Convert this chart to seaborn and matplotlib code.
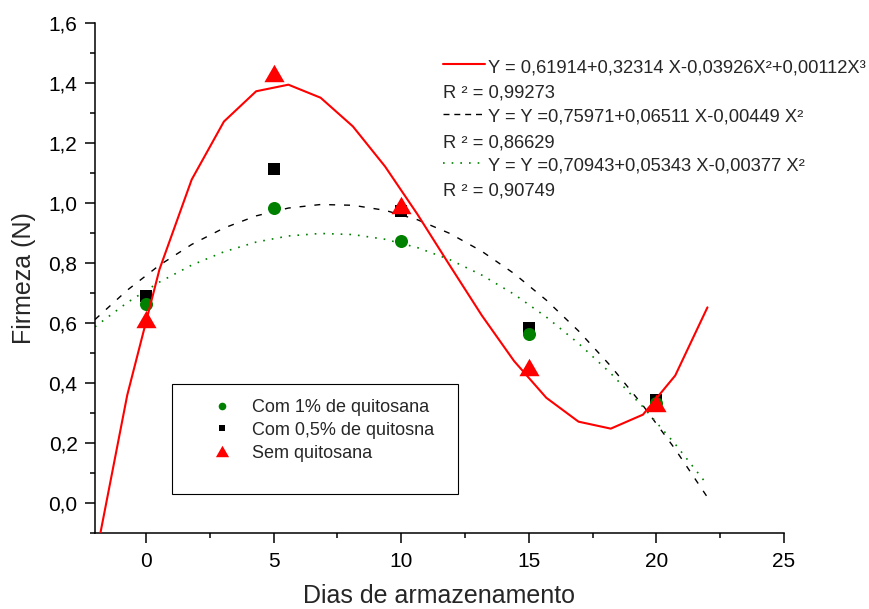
import numpy as np
import pandas as pd
import matplotlib
matplotlib.use("Agg")
import matplotlib.pyplot as plt
from matplotlib.lines import Line2D
from matplotlib.patches import Rectangle
from matplotlib.path import Path
from matplotlib.ticker import MultipleLocator, FuncFormatter
import seaborn as sns

# Storage days and measured firmness (N)
days = [0, 5, 10, 15, 20]
firm_1pct = [0.665, 0.985, 0.875, 0.565, 0.335]
firm_05pct = [0.690, 1.115, 0.975, 0.585, 0.345]
firm_none = [0.615, 1.435, 0.995, 0.455, 0.335]

# Fitted regression coefficients (constant term first)
coef_none = [0.61914, 0.32314, -0.03926, 0.00112]
coef_05pct = [0.75971, 0.06511, -0.00449]
coef_1pct = [0.70943, 0.05343, -0.00377]

series_labels = ["Com 1% de quitosana", "Com 0,5% de quitosna", "Sem quitosana"]
eq_labels = [
    "Y = 0,61914+0,32314 X-0,03926X\u00b2+0,00112X\u00b3",
    "R \u00b2 = 0,99273",
    "Y = Y =0,75971+0,06511 X-0,00449 X\u00b2",
    "R \u00b2 = 0,86629",
    "Y = Y =0,70943+0,05343 X-0,00377 X\u00b2",
    "R \u00b2 = 0,90749",
]
x_label = "Dias de armazenamento"
y_label = "Firmeza (N)"

# Day grid on which the fitted curves are evaluated
fit_days = np.linspace(-2, 22, 20)

sns.set_theme(style="ticks")
plt.rcParams["font.family"] = ["Liberation Sans", "DejaVu Sans"]

GREEN, BLACK, RED = "#008000", "#000000", "#ff0000"

fits = pd.DataFrame({
    "dia": fit_days,
    "none": np.polyval(coef_none[::-1], fit_days),
    "p05": np.polyval(coef_05pct[::-1], fit_days),
    "p1": np.polyval(coef_1pct[::-1], fit_days),
})
obs = pd.DataFrame({"dia": days, "p1": firm_1pct, "p05": firm_05pct, "none": firm_none})

fig = plt.figure(figsize=(8.69, 6.09), dpi=100)
ax = fig.add_axes([0.1093, 0.1248, 0.7929, 0.8374])

# Equilateral triangle marker
tri = Path([(-1, -0.866), (1, -0.866), (0, 0.866), (-1, -0.866)],
           [Path.MOVETO, Path.LINETO, Path.LINETO, Path.CLOSEPOLY])

# Fitted curves
sns.lineplot(data=fits, x="dia", y="p05", ax=ax, color=BLACK, lw=1.0,
             estimator=None, sort=False, zorder=2)
sns.lineplot(data=fits, x="dia", y="p1", ax=ax, color=GREEN, lw=1.2,
             estimator=None, sort=False, zorder=2)
sns.lineplot(data=fits, x="dia", y="none", ax=ax, color=RED, lw=1.5,
             estimator=None, sort=False, zorder=4)
ax.lines[0].set_dashes([4.3, 6.4])
ax.lines[1].set_dashes([1.0, 4.2])

# Observed points
sns.scatterplot(data=obs, x="dia", y="p05", ax=ax, color=BLACK, marker="s",
                s=71, linewidth=0, zorder=3)
sns.scatterplot(data=obs, x="dia", y="p1", ax=ax, color=GREEN, marker="o",
                s=88, linewidth=0, zorder=3)
sns.scatterplot(data=obs, x="dia", y="none", ax=ax, color=RED, marker=tri,
                s=210, linewidth=0, zorder=3)

ax.set_xlim(-2, 25)
ax.set_ylim(-0.1, 1.6)
ax.xaxis.set_major_locator(MultipleLocator(5))
ax.xaxis.set_minor_locator(MultipleLocator(2.5))
ax.yaxis.set_major_locator(MultipleLocator(0.2))
ax.yaxis.set_minor_locator(MultipleLocator(0.1))
ax.xaxis.set_major_formatter(FuncFormatter(lambda v, p: f"{v:g}"))
ax.yaxis.set_major_formatter(FuncFormatter(lambda v, p: f"{v:.1f}".replace(".", ",").replace("-0,0", "0,0")))

for side in ("top", "right"):
    ax.spines[side].set_visible(False)
for side in ("left", "bottom"):
    ax.spines[side].set_linewidth(1.1)
    ax.spines[side].set_color("black")
ax.tick_params(which="major", direction="out", length=7, width=1.1,
               labelsize=15, pad=5.5, colors="black")
ax.tick_params(axis="x", which="major", pad=7)
ax.tick_params(which="minor", direction="out", length=3.6, width=1.1, colors="black")

ax.set_xlabel(x_label, fontsize=18)
ax.set_ylabel(y_label, fontsize=18)
ax.xaxis.set_label_coords(0.5, -0.1)
ax.yaxis.set_label_coords(-0.086, 0.5)

# Marker legend inside a rectangular frame
handles = [
    Line2D([], [], ls="none", marker="o", ms=5.5, color=GREEN, mew=0),
    Line2D([], [], ls="none", marker="s", ms=4.2, color=BLACK, mew=0),
    Line2D([], [], ls="none", marker=tri, ms=9.5, color=RED, mew=0),
]
ax.add_patch(Rectangle((0.1118, 0.0765), 0.4151, 0.2157, transform=ax.transAxes,
                       fill=False, edgecolor="black", lw=0.8, zorder=5))
ax.legend(handles, series_labels, loc="upper left", bbox_to_anchor=(0.1713, 0.2627),
          frameon=False, borderpad=0, borderaxespad=0, handlelength=1.0,
          handletextpad=1.17, labelspacing=0.32, fontsize=13)

# Regression equations with line keys
row_y = [0.9034, 0.8544, 0.8073, 0.7563, 0.7105, 0.6615]
keys = {0: (RED, 1.5, None), 2: (BLACK, 1.0, [4.3, 3.5]), 4: (GREEN, 1.2, [1.0, 4.2])}
key_y = [0.9196, 0.8216, 0.7261]
for i, text in enumerate(eq_labels):
    if i in keys:
        col, lw, dsh = keys[i]
        ky = key_y[i // 2]
        ln = Line2D([0.505, 0.566], [ky, ky], transform=ax.transAxes, color=col, lw=lw)
        if dsh:
            ln.set_dashes(dsh)
        ax.add_line(ln)
        ax.text(0.570, row_y[i], text, transform=ax.transAxes, fontsize=13.2,
                ha="left", va="baseline")
    else:
        ax.text(0.505, row_y[i], text, transform=ax.transAxes, fontsize=13.2,
                ha="left", va="baseline")

fig.savefig("out.png", dpi=100)
